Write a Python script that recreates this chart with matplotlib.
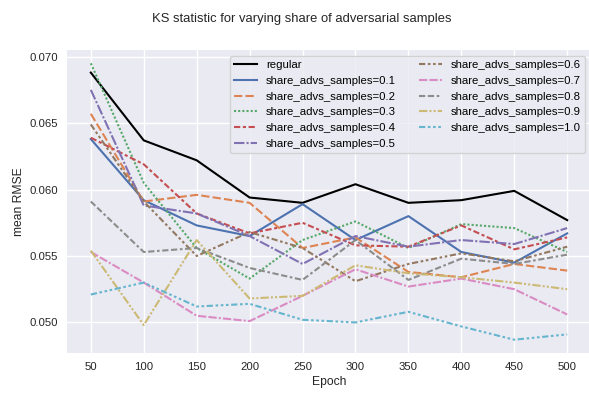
import matplotlib
matplotlib.use("Agg")
import matplotlib.pyplot as plt

epochs = [50, 100, 150, 200, 250, 300, 350, 400, 450, 500]

regular = [0.0688, 0.0637, 0.0622, 0.0594, 0.0590, 0.0604, 0.0590, 0.0592, 0.0599, 0.0577]

shares = [0.1, 0.2, 0.3, 0.4, 0.5, 0.6, 0.7, 0.8, 0.9, 1.0]
rmse_01 = [0.0638, 0.0592, 0.0573, 0.0565, 0.0589, 0.0562, 0.0580, 0.0553, 0.0545, 0.0567]
rmse_02 = [0.0657, 0.0591, 0.0596, 0.0590, 0.0556, 0.0564, 0.0538, 0.0534, 0.0544, 0.0539]
rmse_03 = [0.0695, 0.0605, 0.0556, 0.0533, 0.0562, 0.0576, 0.0556, 0.0574, 0.0571, 0.0553]
rmse_04 = [0.0639, 0.0619, 0.0582, 0.0567, 0.0575, 0.0558, 0.0557, 0.0573, 0.0555, 0.0564]
rmse_05 = [0.0675, 0.0588, 0.0582, 0.0565, 0.0544, 0.0565, 0.0557, 0.0562, 0.0559, 0.0571]
rmse_06 = [0.0649, 0.0591, 0.0550, 0.0568, 0.0556, 0.0531, 0.0544, 0.0552, 0.0546, 0.0557]
rmse_07 = [0.0553, 0.0530, 0.0505, 0.0501, 0.0520, 0.0540, 0.0527, 0.0533, 0.0525, 0.0506]
rmse_08 = [0.0591, 0.0553, 0.0556, 0.0541, 0.0532, 0.0562, 0.0532, 0.0548, 0.0544, 0.0551]
rmse_09 = [0.0554, 0.0498, 0.0562, 0.0518, 0.0520, 0.0543, 0.0537, 0.0534, 0.0530, 0.0525]
rmse_10 = [0.0521, 0.0530, 0.0512, 0.0514, 0.0502, 0.0500, 0.0508, 0.0497, 0.0487, 0.0491]

series = [rmse_01, rmse_02, rmse_03, rmse_04, rmse_05,
          rmse_06, rmse_07, rmse_08, rmse_09, rmse_10]

colors = ["#4c72b0", "#dd8452", "#55a868", "#c44e52", "#8172b3",
          "#937860", "#da8bc3", "#8c8c8c", "#ccb974", "#64b5cd"]

# seaborn's default dash sequence for 10 styles
dashes = [(), (4, 1.5), (1, 1), (3, 1.25, 1.5, 1.25), (5, 1, 1, 1),
          (3, 1.25, 1.25, 1.25, 1.25, 1.25), (4, 1, 4, 1, 1, 1),
          (3, 1.25, 3, 1.25, 1.25, 1.25), (4, 1, 1, 1, 1, 1),
          (3, 1.25, 1.25, 1.25, 1.25, 1.25, 1.25, 1.25)]

plt.rcParams["font.family"] = ["Liberation Sans", "DejaVu Sans"]

fig = plt.figure(figsize=(5.89, 3.94), dpi=100)
ax = fig.add_axes([67 / 589, 41 / 394, 524 / 589, 303 / 394])
ax.set_facecolor("#eaeaf2")
for s in ax.spines.values():
    s.set_visible(False)
ax.grid(True, color="white", linewidth=1.0)
ax.set_axisbelow(True)

lw = 1.5
ax.plot(epochs, regular, color="black", linewidth=lw, label="regular")
for share, vals, c, d in zip(shares, series, colors, dashes):
    line, = ax.plot(epochs, vals, color=c, linewidth=lw,
                    label="share_advs_samples=" + str(share))
    if d:
        line.set_dashes(d)

ax.set_xticks(epochs)
ax.tick_params(axis="both", length=0, pad=6.5, labelsize=8.2, colors="#262626")
ax.set_xlim(27.5, 522.5)
ax.set_ylim(0.0477, 0.0705)
ax.set_yticks([0.050, 0.055, 0.060, 0.065, 0.070])
ax.yaxis.set_major_formatter(matplotlib.ticker.FormatStrFormatter("%.3f"))
ax.set_xlabel("Epoch", fontsize=8.7, color="#262626", labelpad=3)
ax.set_ylabel("mean RMSE", fontsize=8.7, color="#262626", labelpad=3)

ax.legend(loc="upper right", ncol=2, fontsize=8.2, borderaxespad=0.5,
          facecolor="#eaeaf2", edgecolor="#cccccc", framealpha=0.8)

fig.text(302 / 589, 1 - 19 / 394, "KS statistic for varying share of adversarial samples",
         ha="center", va="center", fontsize=9.4, color="#262626")

fig.savefig("out.png", dpi=100)
